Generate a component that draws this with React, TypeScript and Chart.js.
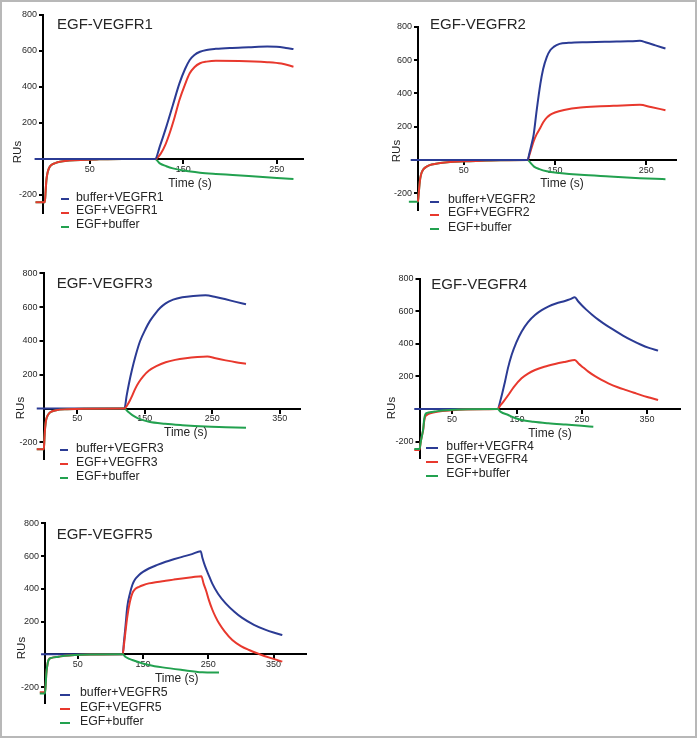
import React, { useEffect, useRef } from "react";
import { Chart, registerables } from "chart.js";

Chart.register(...registerables);

type Pt = [number, number];

// ---------- shared axis data ----------
const Y_MIN = -300;
const Y_MAX = 800;
const Y_TICKS = [-200, 200, 400, 600, 800];
const X_TICKS_SHORT = [50, 150, 250];
const X_TICKS_LONG = [50, 150, 250, 350];
const X_TITLE = "Time (s)";
const Y_TITLE = "RUs";

const TITLES = ["EGF-VEGFR1", "EGF-VEGFR2", "EGF-VEGFR3", "EGF-VEGFR4", "EGF-VEGFR5"];
const LEGEND_1 = ["buffer+VEGFR1", "EGF+VEGFR1", "EGF+buffer"];
const LEGEND_2 = ["buffer+VEGFR2", "EGF+VEGFR2", "EGF+buffer"];
const LEGEND_3 = ["buffer+VEGFR3", "EGF+VEGFR3", "EGF+buffer"];
const LEGEND_4 = ["buffer+VEGFR4", "EGF+VEGFR4", "EGF+buffer"];
const LEGEND_5 = ["buffer+VEGFR5", "EGF+VEGFR5", "EGF+buffer"];

// ---------- series (time s, RU) ----------
const P1_BLUE: Pt[] = [[-9,0],[120,0],[125,70],[132,180],[139,300],[146,420],[152,500],[157,550],[162,578],[168,596],[175,606],[185,612],[200,617],[220,621],[240,625],[250,623],[260,617],[268,611]];
const P1_RED: Pt[] = [[-8,-240],[2,-240],[2.8,-180],[3.6,-120],[4.8,-78],[6.5,-50],[9,-33],[13,-23],[18,-15],[28,-9],[40,-5],[60,-2],[85,0],[120,0],[126,30],[131,80],[135.5,143],[141,235],[146,328],[152,415],[157,476],[162,510],[168,532],[175,541],[185,546],[210,545],[240,538],[255,530],[268,513]];
const P1_GREEN: Pt[] = [[-8,-240],[2,-240],[2.8,-180],[3.6,-120],[4.8,-78],[6.5,-50],[9,-33],[13,-23],[18,-15],[28,-9],[40,-5],[60,-2],[85,0],[120,0],[125,-24],[132,-40],[139,-52],[150,-64],[168,-76],[185,-83],[203,-89],[220,-95],[239,-102],[255,-107],[268,-111]];

const P2_BLUE: Pt[] = [[-8,0],[120,0],[122,40],[124,85],[126.7,154],[130,300],[134,457],[137,545],[141,618],[145,660],[148.6,679],[155,697],[165,703],[185,707],[210,710],[230,712],[243,715],[250,705],[260,688],[271,669]];
const P2_RED: Pt[] = [[0,-250],[0.8,-200],[1.6,-150],[2.5,-109],[4,-75],[6,-55],[9.9,-38],[15,-27],[24.4,-18],[35,-12],[52,-8],[70,-4],[90,-1],[120,0],[122,30],[124.5,75],[126.7,113],[130,155],[134,194],[137,225],[141,254],[145,272],[150,285],[160,300],[178,315],[200,322],[214,325],[243,331],[255,318],[271,299]];
const P2_GREEN: Pt[] = [[-10,-250],[0,-250],[0.8,-200],[1.6,-150],[2.5,-109],[4,-75],[6,-55],[9.9,-38],[15,-27],[24.4,-18],[35,-12],[52,-8],[70,-4],[90,-1],[120,0],[124,-22],[126.7,-38],[133,-55],[141,-68],[155,-78],[178,-89],[210,-99],[243,-109],[260,-113],[271,-115]];

const P3_BLUE: Pt[] = [[-10,0],[120,0],[123,72],[126.7,150],[131,228],[136.6,315],[143,398],[151.4,472],[158,520],[166.2,565],[173,596],[181,622],[192,644],[205.6,658],[222,666],[240,670],[255,660],[270,646],[285,631],[300,617]];
const P3_RED: Pt[] = [[-10,-240],[0.5,-240],[1.5,-170],[2.5,-110],[4,-65],[6.4,-39],[10,-22],[18.8,-10],[35,-4],[60,-1],[120,0],[124,20],[128,48],[131.6,78],[136,118],[141.5,157],[148,192],[156.3,225],[168,253],[181,274],[195,288],[210.7,298],[228,305],[242.7,308],[255,297],[270,285],[285,274],[300,265]];
const P3_GREEN: Pt[] = [[-10,-240],[0.5,-240],[1.5,-170],[2.5,-110],[4,-65],[6.4,-39],[10,-22],[18.8,-10],[35,-4],[60,-1],[120,0],[125,-18],[131.6,-39],[140,-58],[156.3,-78],[180,-90],[205.6,-98],[240,-106],[270,-110],[300,-114]];

const P4_BLUE: Pt[] = [[-8,0],[120,0],[125,60],[131.5,168],[136,250],[141.7,332],[149,410],[157,476],[167,535],[177.7,578],[188,608],[198,630],[210,649],[223.8,665],[232,676],[239,687],[244,663],[250,637],[257,610],[265,582],[275,550],[287,516],[300,484],[313,452],[326,424],[340,397],[353,376],[367,359]];
const P4_RED: Pt[] = [[-8,-252],[0,-252],[2,-200],[4,-160],[5.8,-125],[7,-80],[8.5,-50],[12,-35],[18,-25],[25,-18],[35,-12],[50,-7],[70,-3],[100,-1],[120,0],[125,25],[130,50],[136.6,86],[145,135],[157,189],[167,218],[177.7,240],[192,260],[208.5,277],[225,291],[239,302],[245,278],[252,255],[259.7,230],[270,202],[280,179],[290.5,158],[305,134],[318,116],[330,100],[342,84],[355,69],[367,55]];
const P4_GREEN: Pt[] = [[-8,-246],[0,-246],[2,-200],[4,-160],[5.8,-119],[7,-70],[8.5,-37],[12,-24],[18,-19],[23.6,-16],[35,-9],[52,-4],[75,-1],[120,0],[125,-18],[136.6,-37],[145,-52],[157,-68],[175,-79],[198,-88],[225,-96],[249.4,-103],[267.4,-109]];

const P5_BLUE: Pt[] = [[-6,0],[119,0],[121,80],[123,160],[126,290],[130,370],[133.7,423],[138,458],[144,484],[150,503],[159,524],[172,546],[184.8,565],[197,580],[210,595],[225,612],[238.4,630],[241,590],[245,540],[250,490],[256,433],[265,370],[276.7,311],[290,260],[302,222],[320,180],[338,149],[350,133],[363.4,118]];
const P5_RED: Pt[] = [[-8,-232],[0,-232],[1,-190],[2,-120],[3.5,-70],[5.4,-35],[10,-22],[20.8,-15],[30,-9],[45.4,-4],[70,-1],[119,0],[121,60],[123,130],[126,229],[130,320],[133.7,372],[138,398],[144,412],[150,422],[159,433],[172,442],[184.8,449],[197,456],[210,463],[225,470],[239.4,477],[243,430],[247,385],[251,331],[256,275],[261,230],[266.5,189],[275,140],[286.8,87],[300,50],[312.4,26],[327.7,2],[345,-22],[363.4,-45]];
const P5_GREEN: Pt[] = [[-8,-240],[0,-240],[1,-190],[2,-120],[3.5,-70],[5.4,-35],[10,-22],[20.8,-15],[30,-9],[45.4,-4],[70,-1],[119,0],[123,-15],[128,-26],[133.7,-35],[145,-50],[159,-65],[180,-80],[210,-96],[241,-110],[266.5,-112]];

const X_MAX = [278, 282, 380, 400, 400];

// ---------- styles / layout ----------
const COLORS = ["#2b3b94", "#e8382d", "#22a14f"];
const FONT = '"Liberation Sans", Arial, Helvetica, sans-serif';
const TEXT_COLOR = "#262626";

interface Layout {
  left: number; top: number; w: number; h: number;
  axisX: number; areaTop: number; areaBottom: number; areaRight: number;
  titleX: number; titleY: number;
  rusX: number; rusY: number;
  timeX: number; timeY: number;
  legLineX: number; legLineLen: number; legTextX: number; legY: number[];
  order: number[]; // draw order weights for blue, red, green (lower = on top)
}

const LAYOUTS: Layout[] = [
  { left: 0, top: 0, w: 315, h: 228, axisX: 43, areaTop: 15, areaBottom: 213, areaRight: 302.8,
    titleX: 57, titleY: 23.3, rusX: 18, rusY: 152, timeX: 190, timeY: 183,
    legLineX: 61, legLineLen: 8, legTextX: 76, legY: [196.7, 210, 224], order: [0, 1, 2] },
  { left: 348, top: 0, w: 342, h: 228, axisX: 70, areaTop: 26.7, areaBottom: 210, areaRight: 327.5,
    titleX: 430, titleY: 23.3, rusX: 396.5, rusY: 151, timeX: 562, timeY: 182.7,
    legLineX: 430, legLineLen: 9, legTextX: 448, legY: [199, 212.3, 226.7], order: [0, 1, 2] },
  { left: 0, top: 255, w: 315, h: 228, axisX: 43.5, areaTop: 18.3, areaBottom: 204.3, areaRight: 300,
    titleX: 56.7, titleY: 281.7, rusX: 21, rusY: 407.5, timeX: 185.8, timeY: 432.3,
    legLineX: 60, legLineLen: 8, legTextX: 76, legY: [447.7, 461.7, 475.7], order: [2, 0, 1] },
  { left: 348, top: 255, w: 342, h: 228, axisX: 71.5, areaTop: 24, areaBottom: 202.75, areaRight: 331.5,
    titleX: 431.3, titleY: 283.3, rusX: 392, rusY: 408.3, timeX: 550, timeY: 433.3,
    legLineX: 426.3, legLineLen: 12, legTextX: 446.3, legY: [445.7, 459, 473.3], order: [2, 1, 0] },
  { left: 0, top: 490, w: 318, h: 240, axisX: 45, areaTop: 33.3, areaBottom: 213.4, areaRight: 306.2,
    titleX: 56.7, titleY: 532.7, rusX: 22, rusY: 648, timeX: 176.7, timeY: 678.3,
    legLineX: 60, legLineLen: 10, legTextX: 80, legY: [692, 706.7, 720.7], order: [2, 1, 0] },
];

interface PanelDef {
  title: string;
  labels: string[];
  series: Pt[][];
  xTicks: number[];
  xMax: number;
  layout: Layout;
}

const PANELS: PanelDef[] = [
  { title: TITLES[0], labels: LEGEND_1, series: [P1_BLUE, P1_RED, P1_GREEN], xTicks: X_TICKS_SHORT, xMax: X_MAX[0], layout: LAYOUTS[0] },
  { title: TITLES[1], labels: LEGEND_2, series: [P2_BLUE, P2_RED, P2_GREEN], xTicks: X_TICKS_SHORT, xMax: X_MAX[1], layout: LAYOUTS[1] },
  { title: TITLES[2], labels: LEGEND_3, series: [P3_BLUE, P3_RED, P3_GREEN], xTicks: X_TICKS_LONG, xMax: X_MAX[2], layout: LAYOUTS[2] },
  { title: TITLES[3], labels: LEGEND_4, series: [P4_BLUE, P4_RED, P4_GREEN], xTicks: X_TICKS_LONG, xMax: X_MAX[3], layout: LAYOUTS[3] },
  { title: TITLES[4], labels: LEGEND_5, series: [P5_BLUE, P5_RED, P5_GREEN], xTicks: X_TICKS_LONG, xMax: X_MAX[4], layout: LAYOUTS[4] },
];

function Panel({ def }: { def: PanelDef }) {
  const ref = useRef<HTMLCanvasElement | null>(null);
  const L = def.layout;

  useEffect(() => {
    if (!ref.current) return;
    const tickFont = { family: FONT, size: 9 };
    const chart = new Chart(ref.current, {
      type: "scatter",
      data: {
        datasets: def.series.map((s, i) => ({
          label: def.labels[i],
          data: s.map(([x, y]) => ({ x, y })),
          showLine: true,
          borderColor: COLORS[i],
          backgroundColor: COLORS[i],
          borderWidth: 2,
          pointRadius: 0,
          cubicInterpolationMode: "monotone" as const,
          clip: false as any,
          order: L.order[i],
        })),
      },
      options: {
        responsive: false,
        maintainAspectRatio: false,
        animation: false,
        devicePixelRatio: 1,
        events: [],
        layout: {
          padding: {
            left: 0,
            top: L.areaTop,
            bottom: L.h - L.areaBottom,
            right: L.w - L.areaRight,
          },
        },
        plugins: {
          legend: { display: false },
          tooltip: { enabled: false },
          title: { display: false },
        },
        scales: {
          x: {
            type: "linear",
            min: 0,
            max: def.xMax,
            position: { y: 0 } as any,
            afterBuildTicks: (scale: any) => {
              scale.ticks = def.xTicks.map((v) => ({ value: v }));
            },
            grid: { drawOnChartArea: false, drawTicks: true, tickLength: 4, lineWidth: 2, color: "#000" },
            border: { display: true, color: "#000", width: 2 },
            ticks: { font: tickFont, color: "#2a2a2a", padding: 1, maxRotation: 0, autoSkip: false },
          },
          y: {
            type: "linear",
            min: Y_MIN,
            max: Y_MAX,
            position: "left",
            afterBuildTicks: (scale: any) => {
              scale.ticks = Y_TICKS.map((v) => ({ value: v }));
            },
            afterFit: (scale: any) => {
              scale.width = L.axisX;
            },
            grid: { drawOnChartArea: false, drawTicks: true, tickLength: 4, lineWidth: 2, color: "#000" },
            border: { display: true, color: "#000", width: 2 },
            ticks: { font: tickFont, color: "#2a2a2a", padding: 2, autoSkip: false },
          },
        },
      } as any,
    });
    return () => chart.destroy();
  }, []);

  const textBase: React.CSSProperties = {
    position: "absolute",
    fontFamily: FONT,
    color: TEXT_COLOR,
    lineHeight: 1,
    whiteSpace: "nowrap",
  };

  return (
    <>
      <canvas
        ref={ref}
        width={L.w}
        height={L.h}
        style={{ position: "absolute", left: L.left, top: L.top, width: L.w, height: L.h }}
      />
      <div style={{ ...textBase, left: L.titleX, top: L.titleY, fontSize: 15, transform: "translateY(-50%)" }}>
        {def.title}
      </div>
      <div
        style={{
          ...textBase,
          left: L.rusX,
          top: L.rusY,
          fontSize: 11.5,
          transform: "translate(-50%, -50%) rotate(-90deg)",
        }}
      >
        {Y_TITLE}
      </div>
      <div style={{ ...textBase, left: L.timeX, top: L.timeY, fontSize: 12, transform: "translate(-50%, -50%)" }}>
        {X_TITLE}
      </div>
      {def.labels.map((lab, i) => (
        <React.Fragment key={lab}>
          <div
            style={{
              position: "absolute",
              left: L.legLineX,
              top: L.legY[i] + 1.5,
              width: L.legLineLen,
              height: 2,
              background: COLORS[i],
            }}
          />
          <div style={{ ...textBase, left: L.legTextX, top: L.legY[i], fontSize: 12.3, transform: "translateY(-50%)" }}>
            {lab}
          </div>
        </React.Fragment>
      ))}
    </>
  );
}

export default function App() {
  return (
    <div
      style={{
        position: "absolute",
        left: 0,
        top: 0,
        width: 697,
        height: 738,
        background: "#fff",
        overflow: "hidden",
      }}
    >
      <div
        style={{
          position: "absolute",
          left: 0,
          top: 0,
          width: 697,
          height: 738,
          boxSizing: "border-box",
          border: "2px solid #b8b8b8",
        }}
      />
      {PANELS.map((p) => (
        <Panel key={p.title} def={p} />
      ))}
    </div>
  );
}
